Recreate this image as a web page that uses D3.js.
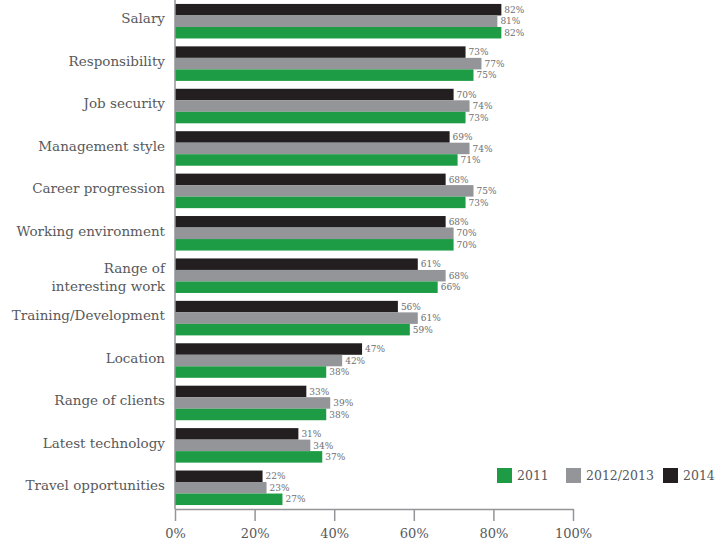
<!DOCTYPE html>
<html>
<head>
<meta charset="utf-8">
<script src="https://cdn.jsdelivr.net/npm/d3@7"></script>
<style>
  html, body { margin: 0; padding: 0; background: #fff; }
  svg text { font-family: "DejaVu Serif", "Liberation Serif", serif; }
</style>
</head>
<body>
<svg id="chart" width="728" height="541"></svg>
<script>
// Factors, top to bottom
const categories = [
  "Salary", "Responsibility", "Job security", "Management style",
  "Career progression", "Working environment", "Range of interesting work",
  "Training/Development", "Location", "Range of clients",
  "Latest technology", "Travel opportunities"
];
// Multi-line renderings of category names
const categoryLines = {
  "Range of interesting work": ["Range of", "interesting work"]
};
// Series, drawn in this order within each group (top to bottom)
const seriesNames = ["2014", "2012/2013", "2011"];
const values2014 = [82, 73, 70, 69, 68, 68, 61, 56, 47, 33, 31, 22];
const values2012_2013 = [81, 77, 74, 74, 75, 70, 68, 61, 42, 39, 34, 23];
const values2011 = [82, 75, 73, 71, 73, 70, 66, 59, 38, 38, 37, 27];
const xTicks = [0, 20, 40, 60, 80, 100];
// Legend order, left to right
const legendOrder = ["2011", "2012/2013", "2014"];

const seriesValues = {
  "2014": values2014,
  "2012/2013": values2012_2013,
  "2011": values2011
};
const colors = {
  "2014": "#231f20",
  "2012/2013": "#939598",
  "2011": "#1e9c45"
};

const svg = d3.select("#chart");
const left = 175, right = 573, bottom = 509;

const x = d3.scaleLinear().domain([0, 100]).range([left, right]);
const y0 = d3.scaleBand().domain(categories).range([0, bottom])
  .paddingInner(0.186).paddingOuter(0.093);
const y1 = d3.scaleBand().domain(seriesNames).range([0, y0.bandwidth()]);

const rows = categories.map((c, i) => ({
  cat: c,
  items: seriesNames.map(s => ({ s, v: seriesValues[s][i] }))
}));

const groups = svg.append("g").selectAll("g").data(rows).join("g")
  .attr("transform", d => `translate(0,${y0(d.cat)})`);

groups.selectAll("rect").data(d => d.items).join("rect")
  .attr("x", x(0))
  .attr("y", d => y1(d.s))
  .attr("width", d => x(d.v) - x(0))
  .attr("height", y1.bandwidth())
  .attr("fill", d => colors[d.s]);

groups.selectAll("text.val").data(d => d.items).join("text")
  .attr("class", "val")
  .attr("x", d => x(d.v) + 3)
  .attr("y", d => y1(d.s) + y1.bandwidth() / 2)
  .attr("dy", "0.35em")
  .attr("font-size", 9)
  .attr("fill", "#6d6e71")
  .text(d => d.v + "%");

// Category labels
groups.each(function(d) {
  const lines = categoryLines[d.cat] || [d.cat];
  const t = d3.select(this).append("text")
    .attr("text-anchor", "end")
    .attr("font-size", 13.5)
    .attr("fill", "#58595b")
    .attr("x", left - 10);
  const lh = 18;
  const mid = y0.bandwidth() / 2 + (lines.length > 1 ? 1.5 : -2.5);
  lines.forEach((ln, k) => {
    t.append("tspan")
      .attr("x", left - 10)
      .attr("y", mid + (k - (lines.length - 1) / 2) * lh)
      .attr("dy", "0.35em")
      .text(ln);
  });
});

// Vertical baseline
svg.append("line")
  .attr("x1", left).attr("x2", left)
  .attr("y1", 0).attr("y2", bottom)
  .attr("stroke", "#939598").attr("stroke-width", 1.5);

// Bottom axis
const xAxis = d3.axisBottom(x).tickValues(xTicks)
  .tickFormat(d => d + "%").tickSize(12).tickSizeOuter(0).tickPadding(8);
const ax = svg.append("g").attr("transform", `translate(0,${bottom})`).call(xAxis);
ax.select(".domain").attr("stroke", "#939598").attr("stroke-width", 1.5);
ax.selectAll(".tick line").attr("stroke", "#939598").attr("stroke-width", 1.5)
  .attr("y1", 0).attr("y2", 12);
ax.selectAll(".tick text")
  .attr("font-family", "DejaVu Serif, Liberation Serif, serif")
  .attr("font-size", 13).attr("fill", "#58595b");

// Legend
const legendX = { "2011": 497, "2012/2013": 566, "2014": 663 };
const lg = svg.append("g").selectAll("g").data(legendOrder).join("g")
  .attr("transform", d => `translate(${legendX[d]},468)`);
lg.append("rect").attr("width", 15).attr("height", 15)
  .attr("fill", d => colors[d]);
lg.append("text").attr("x", 20).attr("y", 7.5).attr("dy", "0.35em")
  .attr("font-size", 12.5).attr("fill", "#58595b").text(d => d);
</script>
</body>
</html>
